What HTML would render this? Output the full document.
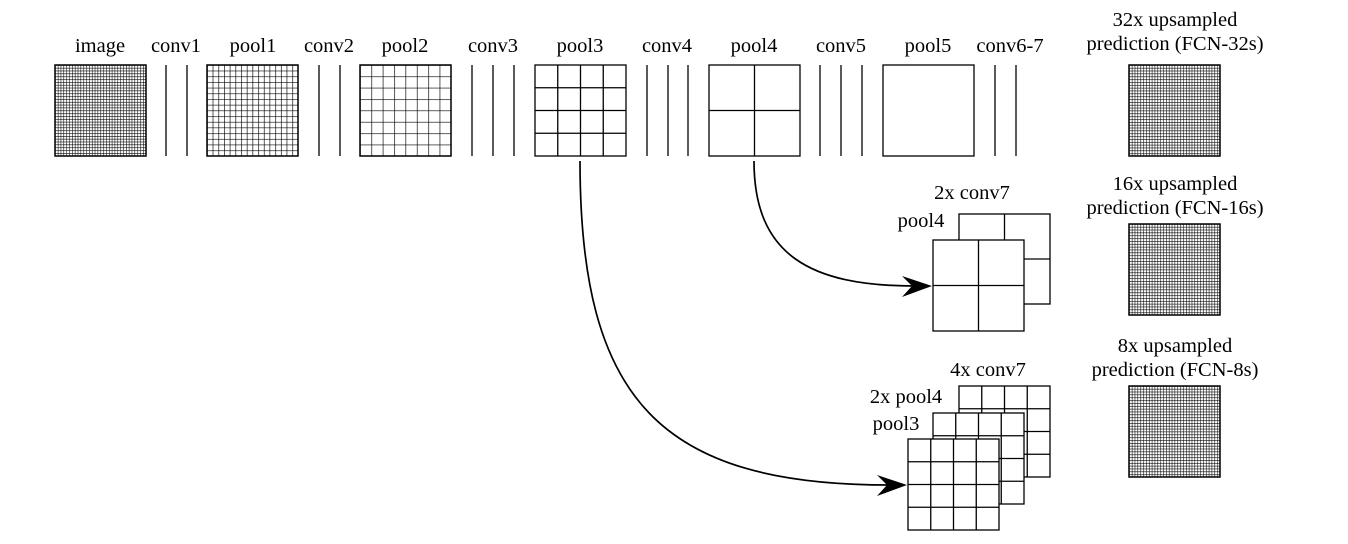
<!DOCTYPE html>
<html><head><meta charset="utf-8"><style>
html,body{margin:0;padding:0;background:#fff;}
svg text{font-family:"Liberation Serif",serif;font-size:20.5px;fill:#000;}
</style></head><body>
<svg width="1348" height="539" viewBox="0 0 1348 539" xmlns="http://www.w3.org/2000/svg">
<defs>
<pattern id="g32" patternUnits="userSpaceOnUse" x="55" y="65" width="2.84" height="2.84"><path d="M0 0H2.84M0 0V2.84" stroke="#000" stroke-width="1.1" fill="none"/></pattern>
<pattern id="g32b" patternUnits="userSpaceOnUse" x="1129" y="65" width="2.85" height="2.85"><path d="M0 0H2.85M0 0V2.85" stroke="#000" stroke-width="1.1" fill="none"/></pattern>
<pattern id="g32c" patternUnits="userSpaceOnUse" x="1129" y="224" width="2.85" height="2.85"><path d="M0 0H2.85M0 0V2.85" stroke="#000" stroke-width="1.1" fill="none"/></pattern>
<pattern id="g32d" patternUnits="userSpaceOnUse" x="1129" y="386" width="2.85" height="2.85"><path d="M0 0H2.85M0 0V2.85" stroke="#000" stroke-width="1.1" fill="none"/></pattern>
<pattern id="g16" patternUnits="userSpaceOnUse" x="207" y="65" width="5.6875" height="5.6875"><path d="M0 0H5.6875M0 0V5.6875" stroke="#000" stroke-width="1.3" fill="none"/></pattern>
<pattern id="g8" patternUnits="userSpaceOnUse" x="360" y="65" width="11.375" height="11.375"><path d="M0 0H11.375M0 0V11.375" stroke="#000" stroke-width="1.3" fill="none"/></pattern>
</defs>
<g stroke="#000" stroke-width="1.3" fill="none">
<rect x="55" y="65" width="91" height="91" fill="url(#g32)"/>
<rect x="55" y="65" width="91" height="91"/>
<line x1="166" y1="65" x2="166" y2="156"/><line x1="187" y1="65" x2="187" y2="156"/>
<rect x="207" y="65" width="91" height="91" fill="url(#g16)"/>
<rect x="207" y="65" width="91" height="91"/>
<line x1="319" y1="65" x2="319" y2="156"/><line x1="340" y1="65" x2="340" y2="156"/>
<rect x="360" y="65" width="91" height="91" fill="url(#g8)"/>
<rect x="360" y="65" width="91" height="91"/>
<line x1="472" y1="65" x2="472" y2="156"/><line x1="493" y1="65" x2="493" y2="156"/><line x1="514" y1="65" x2="514" y2="156"/>
<rect x="535" y="65" width="91" height="91"/>
<path d="M557.75 65V156M580.5 65V156M603.25 65V156M535 87.75H626M535 110.5H626M535 133.25H626"/>
<line x1="647" y1="65" x2="647" y2="156"/><line x1="668" y1="65" x2="668" y2="156"/><line x1="688" y1="65" x2="688" y2="156"/>
<rect x="709" y="65" width="91" height="91"/>
<path d="M754.5 65V156M709 110.5H800"/>
<line x1="820" y1="65" x2="820" y2="156"/><line x1="841" y1="65" x2="841" y2="156"/><line x1="862" y1="65" x2="862" y2="156"/>
<rect x="883" y="65" width="91" height="91"/>
<line x1="995" y1="65" x2="995" y2="156"/><line x1="1016" y1="65" x2="1016" y2="156"/>
<rect x="1129" y="65" width="91" height="91" fill="url(#g32b)"/><rect x="1129" y="65" width="91" height="91"/>
<rect x="1129" y="224" width="91" height="91" fill="url(#g32c)"/><rect x="1129" y="224" width="91" height="91"/>
<rect x="1129" y="386" width="91" height="91" fill="url(#g32d)"/><rect x="1129" y="386" width="91" height="91"/>
<rect x="959" y="214" width="91" height="90" fill="#fff"/>
<path d="M1004.5 214V304M959 259H1050"/>
<rect x="933" y="240" width="91" height="91" fill="#fff"/>
<path d="M978.5 240V331M933 285.5H1024"/>
<rect x="959" y="386" width="91" height="91" fill="#fff"/>
<path d="M981.75 386V477M1004.5 386V477M1027.25 386V477M959 408.75H1050M959 431.5H1050M959 454.25H1050"/>
<rect x="933" y="413" width="91" height="91" fill="#fff"/>
<path d="M955.75 413V504M978.5 413V504M1001.25 413V504M933 435.75H1024M933 458.5H1024M933 481.25H1024"/>
<rect x="908" y="439" width="91" height="91" fill="#fff"/>
<path d="M930.75 439V530M953.5 439V530M976.25 439V530M908 461.75H999M908 484.5H999M908 507.25H999"/>
<path d="M754 161 C754 255 810 286 915 286" stroke-width="1.7"/>
<path d="M580 161 C580 400 660 485 890 485" stroke-width="1.7"/>
</g>
<polygon points="932,286 902,276 912,286 902,297" fill="#000"/>
<polygon points="907,485 877,475 887,485 877,496" fill="#000"/>
<g text-anchor="middle">
<text x="100" y="52">image</text>
<text x="176" y="52">conv1</text>
<text x="253" y="52">pool1</text>
<text x="329" y="52">conv2</text>
<text x="405" y="52">pool2</text>
<text x="493" y="52">conv3</text>
<text x="580" y="52">pool3</text>
<text x="667" y="52">conv4</text>
<text x="754" y="52">pool4</text>
<text x="841" y="52">conv5</text>
<text x="928" y="52">pool5</text>
<text x="1010" y="52">conv6-7</text>
<text x="1175" y="26">32x upsampled</text>
<text x="1175" y="50">prediction (FCN-32s)</text>
<text x="1175" y="190">16x upsampled</text>
<text x="1175" y="214">prediction (FCN-16s)</text>
<text x="1175" y="352">8x upsampled</text>
<text x="1175" y="376">prediction (FCN-8s)</text>
<text x="972" y="199">2x conv7</text>
<text x="921" y="227">pool4</text>
<text x="988" y="376">4x conv7</text>
<text x="906" y="403">2x pool4</text>
<text x="896" y="430">pool3</text>
</g>
</svg>
</body></html>
